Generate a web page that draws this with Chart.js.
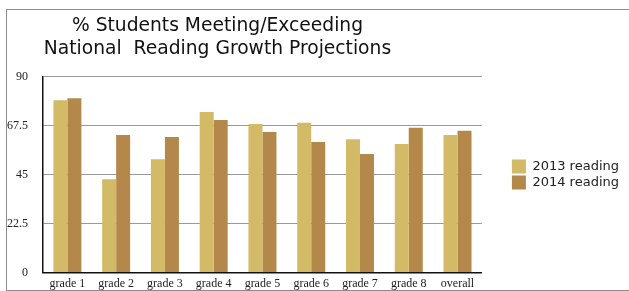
<!DOCTYPE html>
<html>
<head>
<meta charset="utf-8">
<script src="https://cdn.jsdelivr.net/npm/chart.js@4"></script>
<style>
  body { margin: 0; width: 629px; height: 291px; overflow: hidden; background: #fff; position: relative; }
  .frame { position: absolute; left: 6px; top: 9px; width: 640px; height: 280px; border: 1px solid #8c8c8c; border-right: none; }
  #myChart { position: absolute; left: -194px; top: 0; }
</style>
</head>
<body>
<div class="frame"></div>
<canvas id="myChart" width="824" height="295"></canvas>
<script>
const grades = ['grade 1', 'grade 2', 'grade 3', 'grade 4', 'grade 5', 'grade 6', 'grade 7', 'grade 8', 'overall'];
const reading2013 = [79.2, 42.9, 52.1, 73.8, 68.3, 68.8, 61.2, 59.1, 63.2];
const reading2014 = [80.1, 63.2, 62.3, 70.1, 64.6, 60.0, 54.5, 66.5, 65.1];
const yTicks = [0, 22.5, 45, 67.5, 90];
const titleLines = ['% Students Meeting/Exceeding', 'National  Reading Growth Projections'];

const data = {
  labels: grades,
  datasets: [{
    label: '2013 reading',
    backgroundColor: '#d3ba66',
    data: reading2013,
  }, {
    label: '2014 reading',
    backgroundColor: '#b4884b',
    data: reading2014,
  }]
};

const config = {
  type: 'bar',
  data: data,
  options: {
    responsive: false,
    animation: false,
    layout: { padding: { top: 0, right: 1, bottom: 0, left: 0 } },
    datasets: {
      bar: { categoryPercentage: 0.574, barPercentage: 1.0 }
    },
    scales: {
      x: {
        grid: { display: false, drawTicks: false },
        border: { color: '#111', width: 1.5 },
        ticks: { color: '#222', padding: 4, maxRotation: 0, font: { family: 'Liberation Serif', size: 12 } }
      },
      y: {
        min: 0,
        max: 90,
        afterFit: function(s){ s.width = 237; },
        afterBuildTicks: function(s){ s.ticks = yTicks.map(v => ({ value: v })); },
        grid: { color: '#9a9a9a', lineWidth: 1, drawTicks: false },
        border: { color: '#111', width: 1.5 },
        ticks: { color: '#222', padding: 15, font: { family: 'Liberation Serif', size: 12 } }
      },
      gap: {
        type: 'linear',
        position: 'right',
        grid: { display: false },
        border: { display: false },
        ticks: { display: false },
        afterFit: function(s){ s.width = 28; }
      }
    },
    plugins: {
      title: {
        display: true,
        text: titleLines,
        color: '#111',
        font: { family: 'DejaVu Sans', size: 18.7, weight: 'normal', lineHeight: 1.22 },
        padding: { top: 15, bottom: 16 }
      },
      legend: {
        position: 'right',
        align: 'center',
        fullSize: false,
        labels: {
          boxWidth: 14,
          boxHeight: 14,
          padding: 2,
          color: '#222',
          font: { family: 'DejaVu Sans', size: 13 }
        }
      },
      tooltip: { enabled: false }
    }
  }
};

const myChart = new Chart(
  document.getElementById('myChart'),
  config
);
</script>
</body>
</html>
